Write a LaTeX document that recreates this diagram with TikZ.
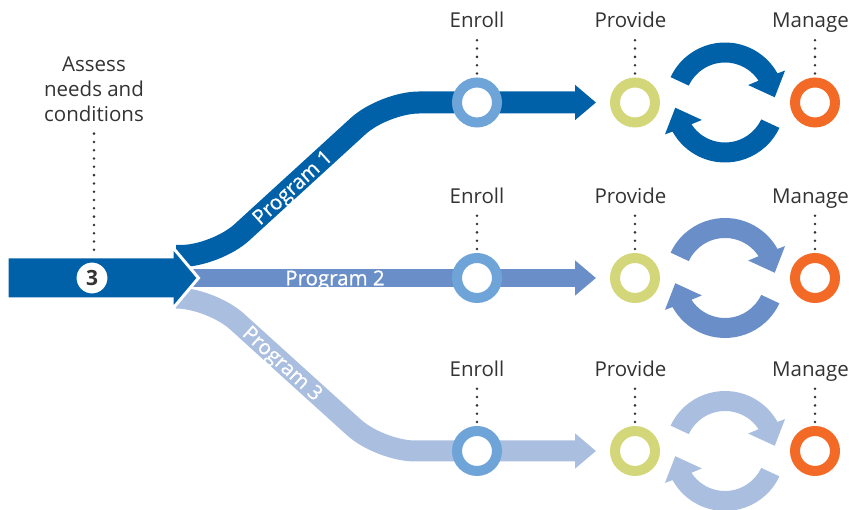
\documentclass[tikz,border=0pt]{standalone}
\usepackage{fontspec}
\setmainfont{Open Sans}
\newfontfamily\progfont[FakeBold=0.6]{Open Sans}
\usetikzlibrary{arrows.meta}
\definecolor{darkblue}{HTML}{0061A8}
\definecolor{midblue}{HTML}{6A8FC8}
\definecolor{lightblue}{HTML}{AABEE0}
\definecolor{enrollblue}{HTML}{6FA4D9}
\definecolor{provgreen}{HTML}{D4D779}
\definecolor{manorange}{HTML}{F26A25}
\definecolor{textgray}{HTML}{333333}
\begin{document}
\begin{tikzpicture}[x=1pt,y=1pt]
    \useasboundingbox (0,0) rectangle (849,510);
    \clip (0,0) rectangle (849,510);
    \tikzstyle{every node}=[inner sep=0pt, font=\fontsize{20.5}{25}\selectfont, text=textgray]
    \tikzstyle{band}=[line width=22pt, rounded corners=35pt, -{Triangle[length=21pt,width=34pt]}]
    \tikzstyle{dots}=[textgray, line width=2.8pt, line cap=round, dash pattern=on 0pt off 8.3pt]
    \tikzstyle{ring}=[circle, draw, fill=white, line width=10pt, minimum size=40pt]
    \tikzstyle{lbl}=[anchor=base]
    \tikzstyle{prog}=[text=white, font=\fontsize{20.5}{25}\progfont, text height=14.6pt, text depth=0pt, anchor=center]

    \coordinate (fork1) at (176,254);
    \coordinate (fork2) at (176,232);
    \coordinate (fork3) at (176,212);
    \coordinate (tip1) at (596,407.5);
    \coordinate (tip2) at (596,232);
    \coordinate (tip3) at (596,59);

    % program branches
    \draw[band, darkblue] (fork1) -- (216,254) -- (384,407.5) -- (tip1);
    \draw[band, midblue, line width=18pt] (fork2) -- (tip2);
    \draw[band, lightblue, line width=21pt] (fork3) -- (211,212) -- (380,59) -- (tip3);

    \node[prog, rotate=42.4] (prog1) at (292,323) {Program 1};
    \node[prog] (prog2) at (335,232) {Program 2};
    \node[prog, rotate=-42.3] (prog3) at (283,147) {Program 3};

    % main arrow
    \filldraw[darkblue, draw=white, line width=3pt] (7,211) -- (172,211) -- (172,200.5) -- (198.5,232) -- (172,263.5) -- (172,253) -- (7,253) -- cycle;

    \node[align=center] (assess) at (94,421) {Assess\\needs and\\conditions};
    \draw[dots] ([yshift=-12pt]assess.south) -- (94,255);
    \node[circle, draw=darkblue, fill=white, line width=3.5pt, minimum size=34.5pt, font=\fontsize{21}{25}\selectfont\bfseries] (n3) at (92,232) {3};

    % row 1
    \node[ring, draw=enrollblue] (e1) at (477,407.5) {};
    \node[ring, draw=provgreen] (p1) at (635,407.5) {};
    \node[ring, draw=manorange] (m1) at (815,407.5) {};
    \node[lbl] (le1) at (477,482) {Enroll};
    \node[lbl] (lp1) at (630.5,482) {Provide};
    \node[lbl] (lm1) at (810.5,482) {Manage};
    \draw[dots] ([yshift=4pt]e1.north) -- ++(0,34);
    \draw[dots] ([yshift=4pt]p1.north) -- ++(0,34);
    \draw[dots] ([yshift=4pt]m1.north) -- ++(0,34);
    \fill[darkblue, shift={(725,407.5)}] (155:60) arc[start angle=155, end angle=29, radius=60] -- (28:68) -- (6:50) -- (37:29) -- (33:40) arc[start angle=33, end angle=155, radius=40] -- cycle;
    \fill[darkblue, shift={(725,407.5)}, rotate=180] (155:60) arc[start angle=155, end angle=29, radius=60] -- (28:68) -- (6:50) -- (37:29) -- (33:40) arc[start angle=33, end angle=155, radius=40] -- cycle;

    % row 2
    \node[ring, draw=enrollblue] (e2) at (477,232) {};
    \node[ring, draw=provgreen] (p2) at (635,232) {};
    \node[ring, draw=manorange] (m2) at (815,232) {};
    \node[lbl] (le2) at (477,306.5) {Enroll};
    \node[lbl] (lp2) at (630.5,306.5) {Provide};
    \node[lbl] (lm2) at (810.5,306.5) {Manage};
    \draw[dots] ([yshift=4pt]e2.north) -- ++(0,34);
    \draw[dots] ([yshift=4pt]p2.north) -- ++(0,34);
    \draw[dots] ([yshift=4pt]m2.north) -- ++(0,34);
    \fill[midblue, shift={(725,232)}] (155:60) arc[start angle=155, end angle=29, radius=60] -- (28:68) -- (6:50) -- (37:29) -- (33:40) arc[start angle=33, end angle=155, radius=40] -- cycle;
    \fill[midblue, shift={(725,232)}, rotate=180] (155:60) arc[start angle=155, end angle=29, radius=60] -- (28:68) -- (6:50) -- (37:29) -- (33:40) arc[start angle=33, end angle=155, radius=40] -- cycle;

    % row 3
    \node[ring, draw=enrollblue] (e3) at (477,59) {};
    \node[ring, draw=provgreen] (p3) at (635,59) {};
    \node[ring, draw=manorange] (m3) at (815,59) {};
    \node[lbl] (le3) at (477,133.5) {Enroll};
    \node[lbl] (lp3) at (630.5,133.5) {Provide};
    \node[lbl] (lm3) at (810.5,133.5) {Manage};
    \draw[dots] ([yshift=4pt]e3.north) -- ++(0,34);
    \draw[dots] ([yshift=4pt]p3.north) -- ++(0,34);
    \draw[dots] ([yshift=4pt]m3.north) -- ++(0,34);
    \fill[lightblue, shift={(725,59)}] (155:60) arc[start angle=155, end angle=29, radius=60] -- (28:68) -- (6:50) -- (37:29) -- (33:40) arc[start angle=33, end angle=155, radius=40] -- cycle;
    \fill[lightblue, shift={(725,59)}, rotate=180] (155:60) arc[start angle=155, end angle=29, radius=60] -- (28:68) -- (6:50) -- (37:29) -- (33:40) arc[start angle=33, end angle=155, radius=40] -- cycle;
\end{tikzpicture}
\end{document}
